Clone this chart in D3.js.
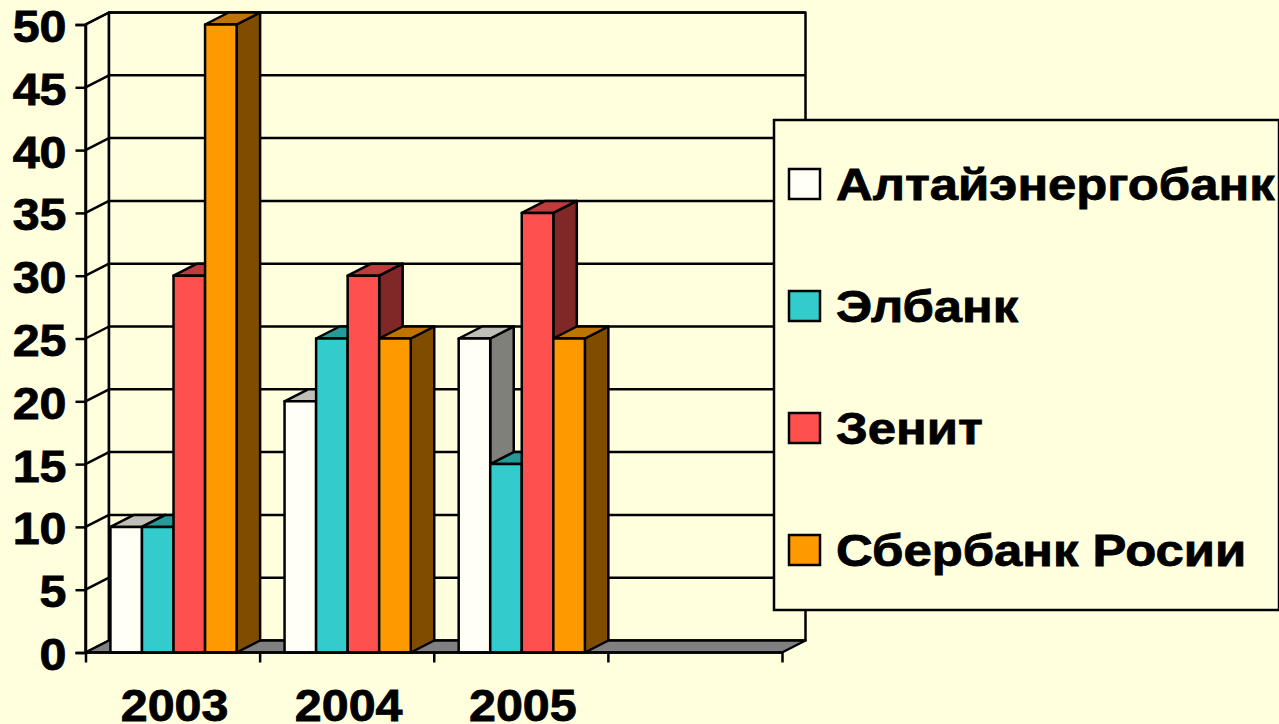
<!DOCTYPE html>
<html><head>
<meta charset="utf-8">
<title>Банки</title>
<script src="https://d3js.org/d3.v7.min.js"></script>
<style>
  html, body { margin: 0; padding: 0; background: #ffffdd; overflow: hidden; }
  svg { display: block; }
  text { font-family: "Liberation Sans", Arial, sans-serif; font-weight: 700; fill: #000; }
  .axis text { font-size: 44px; stroke: #000; stroke-width: 0.8px; }
  .axis line, .axis path { stroke: #000; stroke-width: 2.5px; }
  .legend text { font-size: 44px; stroke: #000; stroke-width: 0.8px; }
</style>
</head>
<body>
<svg id="graph" width="1279" height="724"></svg>
<script>
const categories = ["2003", "2004", "2005", ""];
const seriesNames = ["Алтайэнергобанк", "Элбанк", "Зенит", "Сбербанк Росии"];
const seriesValues = [
  [10, 20, 25, null],
  [10, 25, 15, null],
  [30, 30, 35, null],
  [50, 25, 25, null]
];
const seriesColors = ["#fffff5", "#33cccc", "#ff5050", "#ff9900"];
const yTicks = [0, 5, 10, 15, 20, 25, 30, 35, 40, 45, 50];

const svg = d3.select("#graph");
const bg = "#ffffdd";

// depth of the fake 3D box
const dx = 23.5, dy = -12;
const lineW = 2.5;

const x = d3.scaleBand().domain(categories).range([85.5, 782]);
const xInner = d3.scaleBand().domain(seriesNames).range([0, x.bandwidth()]).paddingInner(0).paddingOuter(0.76).align(0.52);
const y = d3.scaleLinear().domain([0, 50]).range([652.5, 24.5]);

const x0 = x.range()[0], x1 = x.range()[1];
const poly = pts => pts.map(p => p.join(",")).join(" ");

// Walls
const walls = svg.append("g").attr("stroke", "#000").attr("stroke-width", lineW).attr("stroke-linejoin", "round");
walls.append("polygon").attr("fill", bg)
  .attr("points", poly([[x0, y(0)], [x0 + dx, y(0) + dy], [x0 + dx, y(50) + dy], [x0, y(50)]]));
walls.append("polygon").attr("fill", bg)
  .attr("points", poly([[x0 + dx, y(0) + dy], [x1 + dx, y(0) + dy], [x1 + dx, y(50) + dy], [x0 + dx, y(50) + dy]]));

// Gridlines run along the left wall then the back wall
walls.selectAll("polyline.grid").data(yTicks.slice(1)).join("polyline")
  .attr("class", "grid").attr("fill", "none")
  .attr("points", d => poly([[x0, y(d)], [x0 + dx, y(d) + dy], [x1 + dx, y(d) + dy]]));

// Floor
walls.append("polygon").attr("fill", "#808080")
  .attr("points", poly([[x0, y(0)], [x0 + dx, y(0) + dy], [x1 + dx, y(0) + dy], [x1, y(0)]]));

// Bars, one category at a time, left to right so they overlap like the original
const bars = svg.append("g").attr("stroke", "#000").attr("stroke-width", lineW).attr("stroke-linejoin", "round");
categories.forEach((cat, c) => {
  seriesNames.forEach((name, s) => {
    const v = seriesValues[s][c];
    if (v === null) return;
    const color = d3.color(seriesColors[s]);
    const l = x(cat) + xInner(name), r = l + xInner.bandwidth();
    const top = y(v), base = y(0);
    const g = bars.append("g");
    g.append("polygon").attr("fill", shade(color, 0.5))
      .attr("points", poly([[r, base], [r + dx, base + dy], [r + dx, top + dy], [r, top]]));
    g.append("polygon").attr("fill", shade(color, 0.75))
      .attr("points", poly([[l, top], [l + dx, top + dy], [r + dx, top + dy], [r, top]]));
    g.append("rect").attr("fill", color.formatHex())
      .attr("x", l).attr("y", top).attr("width", r - l).attr("height", base - top);
  });
});

function shade(c, k) {
  return d3.rgb(c.r * k, c.g * k, c.b * k).formatHex();
}

// Y axis, labels are a bit wider than the font so they get stretched
const yAxis = d3.axisLeft(y).tickValues(yTicks).tickSize(10);
const yg = svg.append("g").attr("class", "axis").attr("transform", `translate(${x0},0)`).call(yAxis);
yg.selectAll("text").attr("x", 0).attr("transform", "translate(-19,3) scale(1.1,1)");

// X axis: ticks on the category edges, labels in the middle
const xAxis = d3.axisBottom(d3.scaleLinear().domain([0, categories.length]).range([x0, x1]))
  .ticks(categories.length).tickSize(10).tickFormat("");
const xg = svg.append("g").attr("class", "axis").attr("transform", `translate(0,${y(0)})`).call(xAxis);
xg.select(".domain").remove();
svg.append("line").attr("stroke", "#000").attr("stroke-width", lineW)
  .attr("x1", x0).attr("x2", x1).attr("y1", y(0)).attr("y2", y(0));
svg.append("g").attr("class", "axis").selectAll("text").data(categories).join("text")
  .attr("text-anchor", "middle")
  .attr("transform", d => `translate(${x(d) + x.bandwidth() / 2 + 2},721) scale(1.1,1)`)
  .text(d => d);

// Legend
const legend = svg.append("g").attr("class", "legend");
legend.append("rect").attr("x", 774).attr("y", 120).attr("width", 505).attr("height", 490)
  .attr("fill", bg).attr("stroke", "#000").attr("stroke-width", lineW);
const legendY = d3.scalePoint().domain(seriesNames).range([184, 550]);
const items = legend.selectAll("g").data(seriesNames).join("g")
  .attr("transform", d => `translate(0,${legendY(d)})`);
items.append("rect").attr("x", 789).attr("y", -15).attr("width", 31).attr("height", 30)
  .attr("fill", (d, i) => seriesColors[i]).attr("stroke", "#000").attr("stroke-width", lineW);
items.append("text").attr("transform", "translate(836,16) scale(1.155,1)").text(d => d);
</script>
</body></html>
